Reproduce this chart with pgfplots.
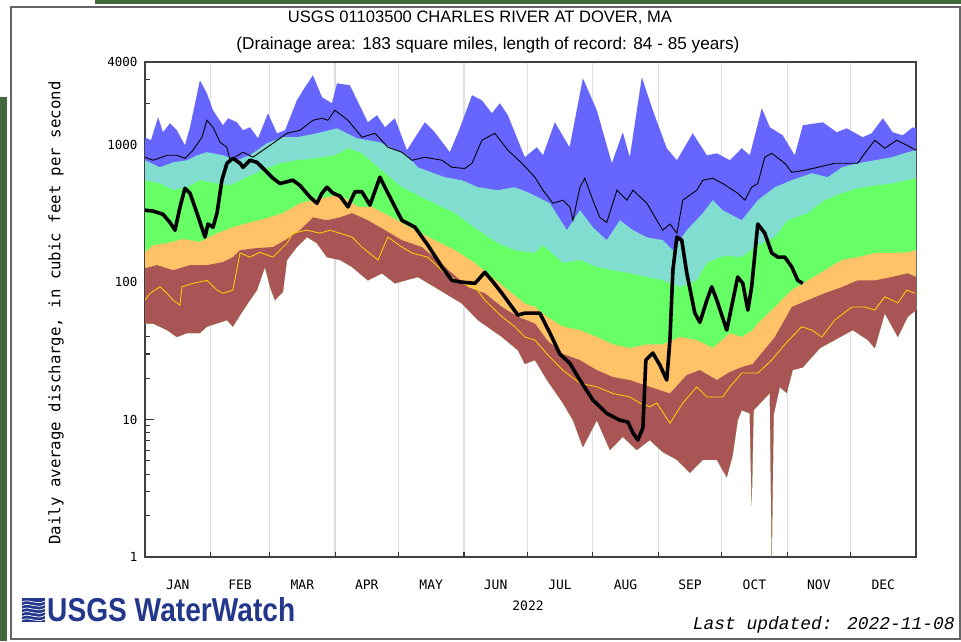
\documentclass[border=0pt]{standalone}
\usepackage{fontspec}
\setmainfont{Liberation Sans}
\newfontfamily\dvmono{DejaVu Sans Mono}
\newfontfamily\limono{Liberation Mono}
\usepackage{pgfplots}
\pgfplotsset{compat=1.18}
\usepgfplotslibrary{fillbetween}
\definecolor{bandblue}{RGB}{102,102,255}
\definecolor{bandcyan}{RGB}{128,221,208}
\definecolor{bandgreen}{RGB}{102,255,102}
\definecolor{bandorange}{RGB}{255,194,102}
\definecolor{bandbrown}{RGB}{170,85,85}
\definecolor{lineyellow}{RGB}{255,215,0}
\definecolor{logoblue}{RGB}{35,55,140}
\definecolor{pagegreen}{RGB}{66,105,60}
\begin{document}
\begin{tikzpicture}
\begin{axis}[
  at={(145pt,84pt)}, anchor=south west,
  scale only axis, width=771pt, height=495pt,
  xmin=0, xmax=365, ymode=log, ymin=1, ymax=4000,
  xtick={15.5,45,74.5,105,135.5,166,196.5,227.5,258,288.5,319,349.5},
  xticklabels={JAN,FEB,MAR,APR,MAY,JUN,JUL,AUG,SEP,OCT,NOV,DEC},
  major x tick style={draw=none},
  minor xtick={0,31,59,90,120,151,181,212,243,273,304,334,365},
  xminorgrids, minor x grid style={black!13, line width=1.3pt},
  xticklabel style={font=\dvmono\fontsize{13}{16}\selectfont, yshift=-19pt},
  ytick={1,10,100,1000,4000}, yticklabels={1,10,100,1000,4000},
  minor ytick={2,3,4,5,6,7,8,9,20,30,40,50,60,70,80,90,200,300,400,500,600,700,800,900,2000,3000},
  yticklabel style={font=\dvmono\fontsize{12.5}{14}\selectfont, xshift=-4pt},
  xtick pos=bottom, ytick pos=left, tick align=inside,
  major tick length=9pt, minor tick length=5pt,
  tick style={black!80, line width=1.1pt},
  axis line style={black!75, line width=1.4pt},
]
\addplot[draw=none, name path=pmax] table {
0 1130
2.8 1078
6.2 1585
8.5 1232
11.8 1433
15.1 1274
18.9 992
21.3 1340
26 2944
29.3 2366
32.2 1782
36.9 1385
39.3 1558
43.5 1457
46.4 1274
49.7 1340
53.5 1115
58.2 1694
62.5 1211
66.3 1274
71.9 2107
75.7 2618
79.5 3202
83.8 2217
88.5 2003
90.9 2798
97 2708
105.5 1457
109.8 1640
113.6 1340
118.3 1558
124 912
132.5 1457
137.2 1232
144.3 882
149 1317
154.8 2292
159.5 2107
164.2 1694
168 2003
171.8 1640
179.8 811
185.5 959
188.4 838
194 1457
201 959
207.3 3045
213.9 1782
221 733
226.2 1232
229.5 811
235.2 3100
240.4 1782
247 943
251.8 771
259.3 1211
266 838
270.7 866
276.9 771
282.5 943
286.3 838
292 1843
295.8 1340
301.9 1171
307.6 838
311.4 1385
320.9 1457
327.5 1232
332.2 1317
339.8 1134
344 1211
349.3 1558
354 1232
358.7 1171
363.5 1340
365 1317
};
\addplot[draw=none, name path=p90] table {
0 771
7.1 685
13.3 745
19.9 771
24.6 838
29.3 882
36.9 838
43.5 771
49.7 838
57.7 1025
65.3 1134
71.9 1134
81.4 1211
90.9 1317
100.3 1115
111.2 1042
124 838
129.2 685
142 580
150 552
157.6 491
167 467
175 491
182.2 444
191.7 375
199.7 239
205.9 334
212 251
218.6 202
224.8 282
231 239
237.6 212
245.1 202
249.9 171
256.5 239
264.1 318
268.8 395
273.5 334
282.5 282
290.1 395
298.2 491
306.2 552
315.7 621
323.2 580
329.9 685
337.4 733
345.5 771
353.5 811
361.1 882
365 912
};
\addplot[draw=none, name path=p75] table {
0 552
7.1 522
13.3 467
19.9 491
26 552
34.1 522
40.2 505
48.3 580
57.7 672
63.9 733
71.9 771
81.4 797
89.9 838
96.1 943
102.7 866
110.3 685
121.6 491
133.9 395
146.7 318
157.6 239
167.1 192
175.1 171
184.6 163
188.4 186
197.8 138
205.9 145
213.9 129
221.5 122
229.5 116
237.6 109
245.1 103
253.2 92
261.2 103
266 138
272.1 152
276 155
282.5 152
290.1 186
298.2 213
304.3 282
313.8 318
321.8 395
329.9 444
337.4 482
345.5 505
353.5 522
361.1 552
365 570
};
\addplot[draw=none, name path=p25] table {
0 165
3.8 186
10.4 192
18 206
26 196
34.1 227
41.6 251
49.7 272
57.7 292
65.3 318
73.4 375
79.5 395
86.1 416
92.3 430
96.1 395
100.8 353
107.4 353
116.9 296
127.8 239
137.2 202
146.7 171
156.2 138
164.2 109
173.7 83
179.8 70
184.6 66
190.3 56
197.8 47.4
205.9 44.8
213.9 39.9
221.5 35.3
229.5 33.1
237.6 35.3
245.1 35.3
253.2 39.9
261.2 37.9
268.8 33.1
276.9 42.6
282.5 39.9
287.7 44.8
290.1 50
298.2 66
306.2 87.5
313.8 103
321.8 122
329.9 145
337.4 152
345.5 163
353.5 163
361.1 165
365 171
};
\addplot[draw=none, name path=p10] table {
0 126
5.7 133
13.3 122
21.3 133
29.3 133
36.9 140
41.6 152
45 171
53 177
60.6 180
67.2 206
73.4 239
79.5 296
86.1 282
92.3 296
98 318
105.5 282
113.6 239
121.6 202
131.1 180
142 129
152.9 92
160.9 83
169 66
176.5 56
184.6 50
190.3 37.9
197.8 30
205.9 27.1
213.9 22.9
221.5 20.4
229.5 19.4
239 17.3
248.5 15.5
256.5 21.1
262.7 22.9
270.7 19.4
276.9 22.2
282.5 24.1
287.7 25.4
298.2 39.9
306.2 66
313.8 74
321.8 83
329.9 92
337.4 103
345.5 103
353.5 109
361.1 116
365 109
};
\addplot[draw=none, name path=pmin] table {
0 50
3.8 50
10.4 44.8
15.1 39.9
19.9 42.6
26 42.6
29.3 47.4
38.8 52.9
41.6 47.4
45 57.6
49.7 74
53 87.5
56.8 129
59.2 92
61.5 74
65.3 85
67.2 145
71.9 180
76.7 213
81.4 192
86.1 152
92.3 145
98 129
105.5 103
112.2 116
118.3 98
129.2 109
142 83
150 70
157.6 52.9
169 39.9
176.5 32
179.8 25.4
184.6 27.1
190.3 19.4
197.8 13.2
202.6 9.9
207.3 6.3
213.9 9.9
220.1 6.0
226.2 7.5
232.8 6.0
239 7.1
245.1 5.8
251.8 5.1
257.9 4.1
264.1 5.1
270.7 5.1
275.4 3.8
278.2 5.5
280.6 9.9
282.5 11.7
286.3 11.1
287.2 2.4
288.1 11.7
295.8 15.6
296.7 1.0
297.6 10.8
300.5 17.3
303.8 15.6
306.6 22.9
311.4 24
319.5 33.1
335.1 44.8
342.2 37.9
345.5 33.1
350.2 59.4
356.4 39.9
361.1 56
365 62.6
};
\addplot[fill=bandblue, draw=none] fill between[of=pmax and pmin];
\addplot[fill=bandcyan, draw=none] fill between[of=p90 and pmin];
\addplot[fill=bandgreen, draw=none] fill between[of=p75 and pmin];
\addplot[fill=bandorange, draw=none] fill between[of=p25 and pmin];
\addplot[fill=bandbrown, draw=none] fill between[of=p10 and pmin];
% yellow line
\addplot[lineyellow, line width=0.8pt] table {
0 74
2.4 83
4.7 87.5
7.1 92.5
10.4 83
13.3 74
16.6 68
17.5 92.5
22.7 98
29.3 103
34.1 87.5
36.9 83
41.6 87.5
45 163
49.7 152
54.4 165
60.6 152
67.2 192
70 227
76.7 239
82.8 227
87.6 239
92.3 227
98 213
102.7 180
110.3 145
115 213
121.6 180
126.4 163
133.9 152
142 116
150 98
156.2 92.5
160.9 74
169 56
175.1 47.4
179.8 39.9
184.6 37.9
190.3 30
197.8 22.9
205.9 18.4
213.9 17.3
221.5 15.5
229.5 14.6
234.3 13.2
239 12.4
242.3 13.2
248.5 9.4
254.6 13.2
261.2 17.3
266 14.6
273.5 14.6
276.9 17.3
282.5 21.8
290.1 21.8
296.7 27.1
302.9 35.3
310.9 47.4
315.7 44.8
320.4 39.9
326.5 52.9
334.6 66
340.7 66
345.5 62.6
350.2 78.3
356.4 70.6
360.6 87.5
364.4 83
};
% mean line
\addplot[black, line width=0.9pt] table {
0 811
3.8 771
10.4 838
15.1 838
18.9 797
22.7 912
27 1134
29.3 1507
32.2 1340
35.5 1042
38.8 959
40.2 771
46.4 882
51.1 811
55.8 912
60.6 1025
67.2 1211
73.4 1274
79.5 1507
83.8 1558
86.6 1507
89.9 1782
96.1 1507
102.7 1134
108.9 1211
115 959
121.6 882
126.4 771
132.5 811
140.6 771
145.3 685
151.4 672
154.8 733
159.5 1078
165.6 1211
171.8 912
178.4 733
184.6 580
188.4 467
193.1 375
197.8 395
201.1 353
202.6 282
205.9 491
208.2 570
212 395
215.3 296
218.6 272
223.4 467
228.1 395
231 467
237.6 375
242.3 282
245.1 239
248.5 265
251.8 227
254.6 395
261.2 467
264.1 552
268.8 570
273.5 522
280.6 444
284 395
287.2 491
290.1 522
293.4 811
296.7 866
302.9 733
306.2 630
312.4 653
318.5 685
326.5 733
337.4 733
340.7 866
345.5 1078
350.2 943
355.9 1078
360.6 992
365 912
};
% 2022 daily flow
\addplot[black, line width=3.6pt, line join=round] table {
0 334
3.8 329
8.5 312
11.8 272
14.2 239
16.6 353
18.9 482
21.3 444
24.6 318
28.4 213
29.8 265
32.2 251
34.1 318
36.4 552
38.8 733
41.6 797
45 733
46.4 685
49.7 771
53 745
56.8 653
60.6 570
63.9 522
70 552
73.4 505
78.1 416
81.4 375
83.8 444
86.1 491
89 444
92.3 423
96.1 353
99.4 455
102.7 455
106.5 364
111.2 580
115 444
121.6 282
127.8 251
133.9 186
140.6 129
145.3 103
150 100
156.2 98
160.9 118
164.2 103
169 83
173.7 66
176.5 57.6
179.8 59.5
186.9 59.5
191.7 42.6
196.4 30
201.1 25.7
205.9 19.4
212 13.9
218.6 11.1
224.8 9.9
228.6 9.6
231 8.0
233.3 7.1
235.7 8.7
237.1 27.1
240.4 30.5
243.7 25
247 19.4
248.5 37.9
249.9 122
251.8 213
254.1 202
256.5 116
260.3 59.5
262.7 51
266 74
268.3 92.5
270.7 74
275.4 44.8
280.6 109
283 98
285.4 62.6
287.2 92.5
290.1 265
293.4 227
296.7 163
299.6 152
302.9 152
306.2 129
309 103
311.4 98
};
\end{axis}
\begin{scope}[x=1pt,y=1pt]
\path (0,0) rectangle (961,641);
\fill[pagegreen] (95,637) rectangle (961,641);
\fill[pagegreen] (0,0) rectangle (7,544);
\draw[black!60, line width=1.2pt] (11,2) rectangle (960,634);
\node at (480,623) {\resizebox{384pt}{!}{USGS 01103500 CHARLES RIVER AT DOVER, MA}};
\node at (488,596) {\resizebox{503pt}{!}{(Drainage area: 183 square miles, length of record: 84 - 85 years)}};
\node[rotate=90] at (56,328) {\resizebox{463pt}{!}{\dvmono Daily average discharge, in cubic feet per second}};
\node at (528,35) {\dvmono\fontsize{13}{15}\selectfont 2022};
\fill[logoblue] (22,19) rectangle (45,43);
\foreach \k in {0,...,5} {\draw[white, line width=0.7pt] (22,21+3.6*\k) .. controls (30,25+3.6*\k) and (36,17+3.6*\k) .. (45,22+3.6*\k);}
\node[anchor=west, inner sep=0pt] at (47,31) {\color{logoblue}\resizebox{248pt}{24pt}{\bfseries USGS WaterWatch}};
\node[anchor=east, inner sep=0pt] at (955,16) {\resizebox{262pt}{!}{\limono\itshape Last updated: 2022-11-08}};
\end{scope}
\end{tikzpicture}
\end{document}
